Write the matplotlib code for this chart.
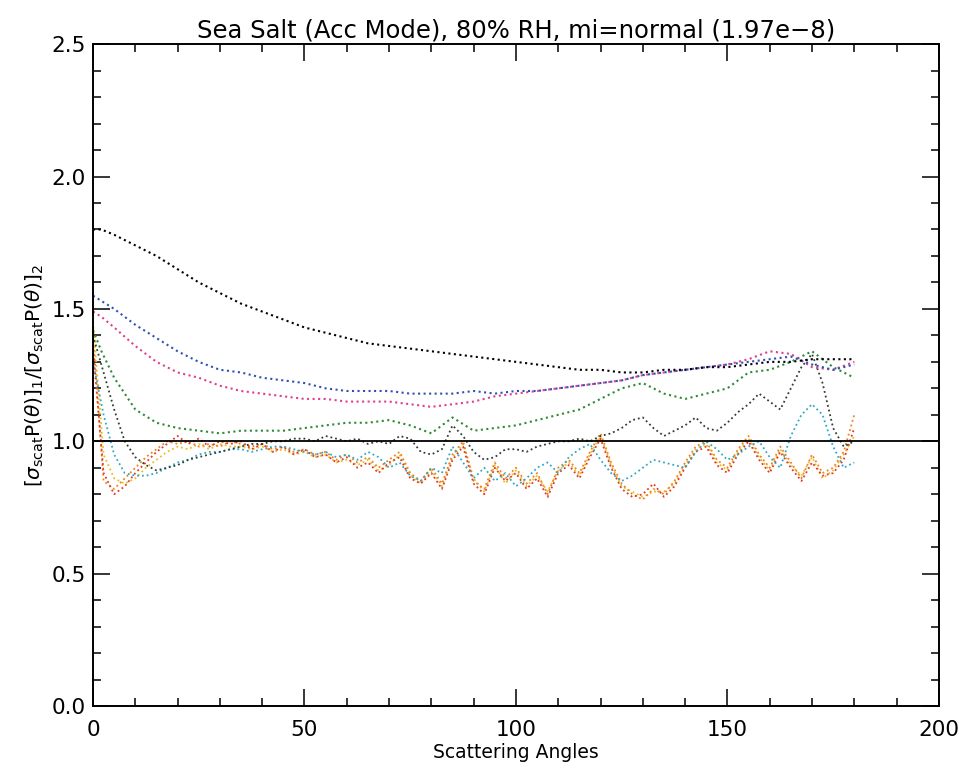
import matplotlib
matplotlib.use('Agg')
import matplotlib.pyplot as plt
from matplotlib.ticker import MultipleLocator

# smooth upper curves, sampled every 5 degrees
ang10 = [0, 2, 5, 10, 15, 20, 25, 30, 35, 40, 45, 50, 55, 60, 65, 70, 75, 80, 85, 90,
         95, 100, 105, 110, 115, 120, 125, 130, 135, 140, 145, 150, 155, 160, 165, 170, 175, 180]
black = [1.80, 1.80, 1.78, 1.74, 1.70, 1.65, 1.60, 1.56, 1.52, 1.49, 1.46, 1.43, 1.41, 1.39, 1.37,
         1.36, 1.35, 1.34, 1.33, 1.32, 1.31, 1.30, 1.29, 1.28, 1.27, 1.27, 1.26, 1.26, 1.27, 1.27,
         1.28, 1.28, 1.29, 1.30, 1.30, 1.31, 1.31, 1.31]
blue = [1.55, 1.53, 1.50, 1.44, 1.39, 1.34, 1.30, 1.27, 1.26, 1.24, 1.23, 1.22, 1.20, 1.19, 1.19,
        1.19, 1.18, 1.18, 1.18, 1.19, 1.18, 1.19, 1.19, 1.20, 1.21, 1.22, 1.23, 1.25, 1.26, 1.27,
        1.28, 1.29, 1.30, 1.31, 1.32, 1.29, 1.27, 1.29]
magenta = [1.49, 1.47, 1.43, 1.36, 1.30, 1.26, 1.24, 1.21, 1.19, 1.18, 1.17, 1.16, 1.16, 1.15, 1.15,
           1.15, 1.14, 1.13, 1.14, 1.15, 1.17, 1.18, 1.19, 1.20, 1.21, 1.22, 1.23, 1.25, 1.26, 1.27,
           1.28, 1.29, 1.31, 1.34, 1.33, 1.28, 1.27, 1.30]
green = [1.42, 1.34, 1.24, 1.12, 1.07, 1.05, 1.04, 1.03, 1.04, 1.04, 1.04, 1.05, 1.06, 1.07, 1.07,
         1.08, 1.06, 1.03, 1.09, 1.04, 1.05, 1.06, 1.08, 1.10, 1.12, 1.16, 1.20, 1.22, 1.18, 1.16,
         1.18, 1.20, 1.26, 1.27, 1.30, 1.34, 1.28, 1.24]

# oscillating lower curves, sampled every 2.5 degrees
ang = [i * 2.5 for i in range(73)]
darkgrn = [1.40, 1.26, 1.12, 1.00, 0.94, 0.91, 0.89, 0.90, 0.91, 0.93, 0.94, 0.95, 0.96, 0.97,
           0.98, 0.99, 0.99, 1.00, 1.00, 1.01, 1.01, 1.00, 1.02, 1.01, 1.00, 1.01, 0.99, 1.00,
           0.99, 1.02, 1.01, 0.96, 0.95, 0.97, 1.06, 1.02, 0.96, 0.93, 0.94, 0.97, 0.97, 0.96,
           0.98, 0.99, 1.00, 1.00, 1.01, 1.00, 1.02, 1.03, 1.05, 1.08, 1.09, 1.05, 1.02, 1.04,
           1.06, 1.09, 1.05, 1.04, 1.07, 1.11, 1.14, 1.18, 1.15, 1.12, 1.20, 1.28, 1.33, 1.22,
           1.05, 0.98, 1.00]
cyan = [1.30, 1.10, 0.95, 0.88, 0.87, 0.87, 0.88, 0.90, 0.92, 0.93, 0.95, 0.96, 0.96, 0.97,
        0.97, 0.96, 0.97, 0.98, 0.98, 0.97, 0.96, 0.95, 0.96, 0.94, 0.95, 0.93, 0.96, 0.94,
        0.90, 0.92, 0.87, 0.85, 0.90, 0.88, 0.98, 0.92, 0.86, 0.90, 0.85, 0.88, 0.83, 0.86,
        0.90, 0.92, 0.88, 0.94, 0.97, 0.99, 0.93, 0.88, 0.85, 0.87, 0.90, 0.93, 0.92, 0.91,
        0.90, 0.96, 1.00, 0.97, 0.93, 0.95, 0.98, 1.00, 0.94, 0.90, 1.02, 1.10, 1.14, 1.10,
        0.98, 0.90, 0.92]
orange = [1.40, 0.85, 0.82, 0.86, 0.90, 0.94, 0.97, 1.00, 0.99, 1.00, 0.98, 0.99, 0.98, 1.00,
          0.99, 0.98, 0.99, 0.97, 0.98, 0.96, 0.97, 0.95, 0.96, 0.93, 0.95, 0.92, 0.94, 0.90,
          0.93, 0.96, 0.88, 0.85, 0.90, 0.84, 0.95, 1.00, 0.85, 0.82, 0.92, 0.86, 0.90, 0.84,
          0.88, 0.80, 0.90, 0.93, 0.88, 0.96, 1.03, 0.92, 0.84, 0.80, 0.78, 0.82, 0.80, 0.85,
          0.92, 0.98, 1.00, 0.93, 0.90, 0.97, 1.02, 0.95, 0.90, 0.98, 0.92, 0.86, 0.95, 0.88,
          0.90, 0.96, 1.10]
red = [1.35, 0.88, 0.80, 0.83, 0.88, 0.92, 0.96, 0.99, 1.02, 0.99, 1.01, 0.98, 1.00, 0.99,
       1.00, 0.97, 0.99, 0.96, 0.98, 0.95, 0.97, 0.94, 0.95, 0.92, 0.94, 0.90, 0.92, 0.88,
       0.92, 0.94, 0.86, 0.84, 0.88, 0.82, 0.93, 0.98, 0.84, 0.80, 0.90, 0.85, 0.88, 0.82,
       0.86, 0.79, 0.88, 0.91, 0.86, 0.94, 1.01, 0.90, 0.82, 0.79, 0.80, 0.84, 0.79, 0.83,
       0.90, 0.96, 0.98, 0.91, 0.88, 0.95, 1.00, 0.93, 0.88, 0.96, 0.90, 0.85, 0.92, 0.87,
       0.88, 0.93, 1.05]
yellow = [1.45, 0.95, 0.86, 0.84, 0.86, 0.90, 0.93, 0.96, 0.98, 0.97, 0.99, 0.97, 0.99, 0.98,
          0.98, 0.97, 0.98, 0.96, 0.97, 0.95, 0.96, 0.94, 0.95, 0.92, 0.93, 0.91, 0.93, 0.89,
          0.91, 0.95, 0.87, 0.84, 0.89, 0.83, 0.94, 0.99, 0.86, 0.81, 0.91, 0.84, 0.89, 0.83,
          0.87, 0.81, 0.89, 0.92, 0.87, 0.95, 1.02, 0.91, 0.83, 0.81, 0.79, 0.81, 0.81, 0.84,
          0.91, 0.97, 0.99, 0.92, 0.89, 0.96, 1.01, 0.94, 0.89, 0.97, 0.91, 0.87, 0.94, 0.86,
          0.89, 0.95, 1.02]

fig = plt.figure(figsize=(9.59, 7.75), dpi=100)
ax = fig.add_axes([0.097, 0.089, 0.882, 0.854])

# draw lower group first, then upper curves on top
for ys, c in [(yellow, '#e8c020'), (orange, '#f08020'), (red, '#e03828'),
              (cyan, '#30a8c8'), (darkgrn, '#2f3f30')]:
    ax.plot(ang, ys, linestyle=':', color=c, linewidth=1.3)
for ys, c in [(green, '#2e8a36'), (magenta, '#e0408a'), (blue, '#3050b8'), (black, 'black')]:
    ax.plot(ang10, ys, linestyle=':', color=c, linewidth=1.5)

ax.axhline(1.0, color='black', linewidth=1.3)

ax.set_xlim(0, 200)
ax.set_ylim(0, 2.5)
ax.xaxis.set_major_locator(MultipleLocator(50))
ax.xaxis.set_minor_locator(MultipleLocator(10))
ax.yaxis.set_major_locator(MultipleLocator(0.5))
ax.yaxis.set_minor_locator(MultipleLocator(0.1))
ax.yaxis.set_major_formatter(plt.FormatStrFormatter('%.1f'))
ax.tick_params(which='both', direction='in', top=True, right=True, labelsize=15.5, width=1.1)
ax.tick_params(axis='x', which='major', length=12, pad=10)
ax.tick_params(axis='y', which='major', length=12, pad=5)
ax.tick_params(which='minor', length=6)
for s in ax.spines.values():
    s.set_linewidth(1.4)

ax.set_title('Sea Salt (Acc Mode), 80% RH, mi=normal (1.97e\u22128)', fontsize=17.5, pad=5)
ax.set_xlabel('Scattering Angles', fontsize=13.5, labelpad=2)
ax.set_ylabel(r'$[\sigma_{\rm scat}{\rm P}(\theta)]_1/[\sigma_{\rm scat}{\rm P}(\theta)]_2$', fontsize=14.5)

fig.savefig('out.png', dpi=100)
